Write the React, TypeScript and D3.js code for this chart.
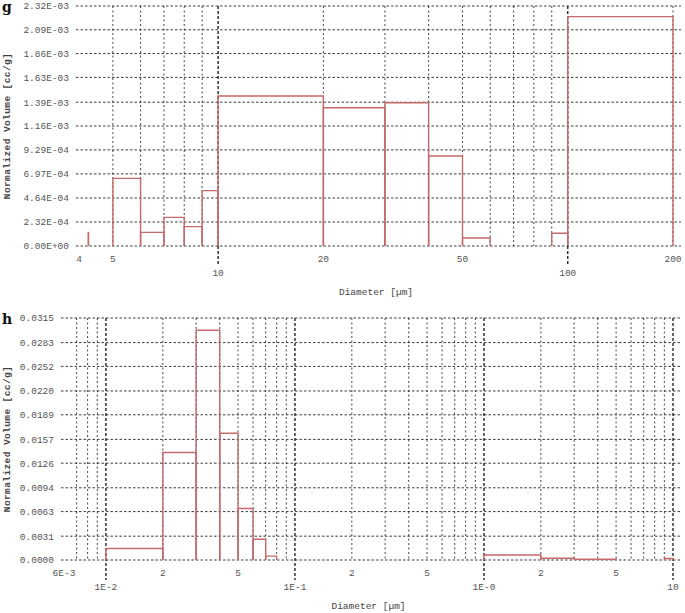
import React from "react";
import * as d3 from "d3";

// ---------- data (panel g) ----------
const gBinLo = [4.25, 5, 6, 7, 8, 9, 10, 20, 30, 40, 50, 90, 100];
const gBinHi = [4.26, 6, 7, 8, 9, 10, 20, 30, 40, 50, 60, 100, 200];
const gValues = [1.3e-4, 6.54e-4, 1.32e-4, 2.77e-4, 1.87e-4, 5.35e-4, 1.45e-3, 1.337e-3, 1.385e-3, 8.7e-4, 7.7e-5, 1.23e-4, 2.217e-3];
const gYTicks = [0, 2.32e-4, 4.64e-4, 6.97e-4, 9.29e-4, 1.16e-3, 1.39e-3, 1.63e-3, 1.86e-3, 2.09e-3, 2.32e-3];
const gXTickValues = [4, 5, 10, 20, 50, 100, 200];
const gXTickLabels = ["4", "5", "10", "20", "50", "100", "200"];
const gXDomain = [4, 200];

// ---------- data (panel h) ----------
const hBinLo = [0.01, 0.02, 0.03, 0.04, 0.05, 0.06, 0.07, 1, 2, 3, 9];
const hBinHi = [0.02, 0.03, 0.04, 0.05, 0.06, 0.07, 0.08, 2, 3, 5, 10];
const hValues = [0.0015, 0.014, 0.0299, 0.0165, 0.0067, 0.0027, 0.0005, 0.00065, 0.00022, 0.0001, 0.0002];
const hYTicks = [0, 0.0031, 0.0063, 0.0094, 0.0126, 0.0157, 0.0189, 0.022, 0.0252, 0.0283, 0.0315];
const hXTickValues = [0.006, 0.01, 0.02, 0.05, 0.1, 0.2, 0.5, 1, 2, 5, 10];
const hXTickLabels = ["6E-3", "1E-2", "2", "5", "1E-1", "2", "5", "1E-0", "2", "5", "10"];
const hXDomain = [0.006, 10];

const MONO = "'Liberation Mono', 'DejaVu Sans Mono', monospace";
const RED = "#c46a6a";
const GRID = "#1a1a1a";
const LABEL = "#555";

function fmtExp(v: number) {
  if (v === 0) return "0.00E+00";
  const [m, e] = v.toExponential(2).toUpperCase().split("E");
  const sign = e[0] === "-" ? "-" : "+";
  const digits = e.replace(/[+-]/, "").padStart(2, "0");
  return `${m}E${sign}${digits}`;
}

function isDecade(v: number) {
  const l = Math.log10(v);
  return Math.abs(l - Math.round(l)) < 1e-9;
}

type PanelProps = {
  letter: string;
  letterY: number;
  xDomain: number[];
  xRange: [number, number];
  yMax: number;
  yRange: [number, number];
  binLo: number[];
  binHi: number[];
  values: number[];
  yTicks: number[];
  yFmt: (v: number) => string;
  xTickValues: number[];
  xTickLabels: string[];
};

function Panel(p: PanelProps) {
  const x = d3.scaleLog().domain(p.xDomain).range(p.xRange);
  const y = d3.scaleLinear().domain([0, p.yMax]).range(p.yRange);
  const [x0, x1] = p.xRange;
  const [yb, yt] = p.yRange;

  // vertical grid lines at 1..9 x 10^k inside domain (excluding domain left edge)
  const grid: number[] = [];
  const kMin = Math.floor(Math.log10(p.xDomain[0]));
  const kMax = Math.ceil(Math.log10(p.xDomain[1]));
  for (let k = kMin; k <= kMax; k++) {
    for (let m = 1; m <= 9; m++) {
      const v = m * Math.pow(10, k);
      if (v > p.xDomain[0] * 1.0001 && v <= p.xDomain[1] * 1.0001) grid.push(v);
    }
  }

  const line = d3.line<[number, number]>();

  return (
    <g>
      <text x={2} y={p.letterY} fontFamily="'DejaVu Serif', 'Liberation Serif', serif" fontWeight="bold" fontSize={14} fill="#111">
        {p.letter}
      </text>
      {/* horizontal grid */}
      {p.yTicks.map((t, i) => (
        <g key={"h" + i}>
          <line x1={x0 - 3} x2={x1 + 8} y1={y(t)} y2={y(t)} stroke={GRID} strokeWidth={1} strokeDasharray="2.5,2" opacity={0.85} />
          <text x={x0 - 10} y={y(t)} dy="0.35em" textAnchor="end" fontFamily={MONO} fontSize={9.5} fill={LABEL}>
            {p.yFmt(t)}
          </text>
        </g>
      ))}
      {/* vertical grid */}
      {grid.map((v, i) => {
        const dec = isDecade(v);
        return (
          <line
            key={"v" + i}
            x1={x(v)}
            x2={x(v)}
            y1={yt}
            y2={dec ? yb + 20 : yb}
            stroke={GRID}
            strokeWidth={dec ? 1.4 : 1}
            strokeDasharray={dec ? "3,2" : "2,2.5"}
            opacity={dec ? 0.95 : 0.8}
          />
        );
      })}
      {/* bars */}
      {p.values.map((v, i) => {
        const xa = x(p.binLo[i]);
        const xb = x(p.binHi[i]);
        const pts: [number, number][] = [
          [xa, y(0)],
          [xa, y(v)],
          [xb, y(v)],
          [xb, y(0)],
        ];
        return <path key={"b" + i} d={line(pts) || ""} fill="none" stroke={RED} strokeWidth={1.4} />;
      })}
      {/* x tick labels */}
      {p.xTickValues.map((v, i) => (
        <text
          key={"xt" + i}
          x={x(v)}
          y={isDecade(v) ? yb + 30 : yb + 16}
          textAnchor="middle"
          fontFamily={MONO}
          fontSize={9.5}
          fill={LABEL}
        >
          {p.xTickLabels[i]}
        </text>
      ))}
      <text x={(x0 + x1) / 2} y={yb + 49} textAnchor="middle" fontFamily={MONO} fontSize={9.5} fill="#444">
        Diameter [µm]
      </text>
      <text
        transform={`translate(10,${(yb + yt) / 2}) rotate(-90)`}
        textAnchor="middle"
        fontFamily={MONO}
        fontWeight="bold"
        fontSize={9.5}
        letterSpacing={0.4}
        fill="#444"
      >
        Normalized Volume [cc/g]
      </text>
    </g>
  );
}

export default function App() {
  return (
    <svg width={685} height={613} style={{ position: "absolute", left: 0, top: 0, background: "#fff" }}>
      <rect width={685} height={613} fill="#fff" />
      <Panel
        letter="g"
        letterY={12}
        xDomain={gXDomain}
        xRange={[79, 673]}
        yMax={2.32e-3}
        yRange={[246, 6]}
        binLo={gBinLo}
        binHi={gBinHi}
        values={gValues}
        yTicks={gYTicks}
        yFmt={fmtExp}
        xTickValues={gXTickValues}
        xTickLabels={gXTickLabels}
      />
      <Panel
        letter="h"
        letterY={324}
        xDomain={hXDomain}
        xRange={[64, 673]}
        yMax={0.0315}
        yRange={[560, 318]}
        binLo={hBinLo}
        binHi={hBinHi}
        values={hValues}
        yTicks={hYTicks}
        yFmt={(v) => v.toFixed(4)}
        xTickValues={hXTickValues}
        xTickLabels={hXTickLabels}
      />
    </svg>
  );
}
